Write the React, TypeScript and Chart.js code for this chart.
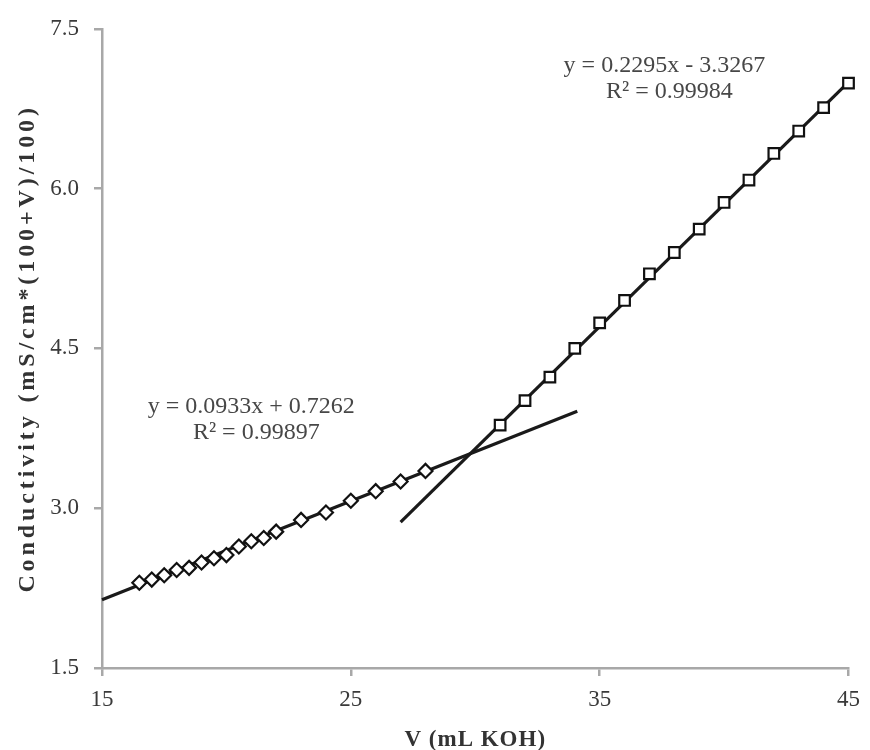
import React, { useEffect, useRef } from 'react';
import { Chart, registerables } from 'chart.js';

Chart.register(...registerables);

// ---- data ----
const leftX = [16.5, 17, 17.5, 18, 18.5, 19, 19.5, 20, 20.5, 21, 21.5, 22, 23, 24, 25, 26, 27, 28];
const leftY = [2.30, 2.33, 2.37, 2.42, 2.44, 2.49, 2.53, 2.56, 2.64, 2.69, 2.72, 2.78, 2.89, 2.96, 3.07, 3.16, 3.25, 3.35];
const rightX = [31, 32, 33, 34, 35, 36, 37, 38, 39, 40, 41, 42, 43, 44, 45];
const rightY = [3.78, 4.01, 4.23, 4.50, 4.74, 4.95, 5.20, 5.40, 5.62, 5.87, 6.08, 6.33, 6.54, 6.76, 6.99];
const leftTrendX = [15, 34.1];
const leftTrendY = [2.14, 3.91];
const rightTrendX = [27, 45];
const rightTrendY = [2.87, 7.0];
const xTicks = [15, 25, 35, 45];
const yTicks = [1.5, 3.0, 4.5, 6.0, 7.5];
const leftEquation = ['y = 0.0933x + 0.7262', 'R\u00B2 = 0.99897'];
const rightEquation = ['y = 0.2295x - 3.3267', 'R\u00B2 = 0.99984'];
const xTitle = 'V (mL KOH)';
const yTitle = 'Conductivity (mS/cm*(100+V)/100)';

const FONT = '"Liberation Serif", "Times New Roman", serif';
const AXIS_COLOR = '#a8a8a8';

const toPoints = (xs: number[], ys: number[]) => xs.map((x, i) => ({ x, y: ys[i] }));

const textPlugin = {
  id: 'customTexts',
  afterDraw(chart: any) {
    const { ctx, chartArea, scales } = chart;
    const xs = scales.x;
    const ys = scales.y;
    ctx.save();
    ctx.textAlign = 'center';
    ctx.textBaseline = 'middle';
    ctx.fillStyle = '#474747';
    ctx.font = `24px ${FONT}`;
    // left equation
    ctx.fillText(leftEquation[0], xs.getPixelForValue(21.0), ys.getPixelForValue(3.95));
    ctx.fillText(leftEquation[1], xs.getPixelForValue(21.2), ys.getPixelForValue(3.71));
    // right equation
    ctx.fillText(rightEquation[0], xs.getPixelForValue(37.6), ys.getPixelForValue(7.15));
    ctx.fillText(rightEquation[1], xs.getPixelForValue(37.8), ys.getPixelForValue(6.91));

    // axis titles
    ctx.fillStyle = '#333333';
    ctx.font = `bold 23px ${FONT}`;
    (ctx as any).letterSpacing = '1px';
    ctx.fillText(xTitle, (chartArea.left + chartArea.right) / 2, 740);
    ctx.font = `bold 24px ${FONT}`;
    (ctx as any).letterSpacing = '3.9px';
    ctx.translate(28, (chartArea.top + chartArea.bottom) / 2);
    ctx.rotate(-Math.PI / 2);
    ctx.fillText(yTitle, 0, 0);
    ctx.restore();
  },
};

export default function App() {
  const canvasRef = useRef<HTMLCanvasElement | null>(null);

  useEffect(() => {
    if (!canvasRef.current) return;
    const chart = new Chart(canvasRef.current, {
      type: 'scatter',
      data: {
        datasets: [
          {
            label: 'left',
            data: toPoints(leftX, leftY),
            pointStyle: 'rectRot',
            pointRadius: 7,
            pointBackgroundColor: '#ffffff',
            pointBorderColor: '#111111',
            pointBorderWidth: 2.2,
            showLine: false,
            order: 0,
            clip: false,
          },
          {
            label: 'right',
            data: toPoints(rightX, rightY),
            pointStyle: 'rect',
            pointRadius: 7.5,
            pointBackgroundColor: '#ffffff',
            pointBorderColor: '#111111',
            pointBorderWidth: 2.2,
            showLine: false,
            order: 0,
            clip: false,
          },
          {
            label: 'left trend',
            data: toPoints(leftTrendX, leftTrendY),
            showLine: true,
            borderColor: '#1a1a1a',
            borderWidth: 3.2,
            pointRadius: 0,
            order: 1,
            clip: false,
          },
          {
            label: 'right trend',
            data: toPoints(rightTrendX, rightTrendY),
            showLine: true,
            borderColor: '#1a1a1a',
            borderWidth: 3.2,
            pointRadius: 0,
            order: 1,
            clip: false,
          },
        ],
      },
      options: {
        animation: false,
        responsive: false,
        devicePixelRatio: 1,
        layout: { padding: { top: 20, right: 18, bottom: 0, left: 0 } },
        plugins: {
          legend: { display: false },
          tooltip: { enabled: false },
          title: { display: false },
        },
        scales: {
          x: {
            type: 'linear',
            position: 'bottom',
            min: 15,
            max: 45,
            afterBuildTicks: (scale: any) => {
              scale.ticks = xTicks.map((v) => ({ value: v }));
            },
            afterFit: (scale: any) => {
              scale.height = 82;
            },
            ticks: {
              autoSkip: false,
              maxRotation: 0,
              padding: 10,
              color: '#3a3a3a',
              font: { family: FONT, size: 23 },
              callback: (v: any) => String(v),
            },
            grid: {
              drawOnChartArea: false,
              drawTicks: true,
              tickLength: 8,
              color: AXIS_COLOR,
              lineWidth: 2.5,
            },
            border: { display: true, color: AXIS_COLOR, width: 2.5 },
            title: { display: false },
          },
          y: {
            type: 'linear',
            position: 'left',
            min: 1.5,
            max: 7.5,
            afterBuildTicks: (scale: any) => {
              scale.ticks = yTicks.map((v) => ({ value: v }));
            },
            afterFit: (scale: any) => {
              scale.width = 102;
            },
            ticks: {
              autoSkip: false,
              padding: 15,
              color: '#3a3a3a',
              font: { family: FONT, size: 23 },
              callback: (v: any) => Number(v).toFixed(1),
            },
            grid: {
              drawOnChartArea: false,
              drawTicks: true,
              tickLength: 8,
              color: AXIS_COLOR,
              lineWidth: 2.5,
            },
            border: { display: true, color: AXIS_COLOR, width: 2.5 },
            title: { display: false },
          },
        },
      },
      plugins: [textPlugin],
    } as any);
    return () => chart.destroy();
  }, []);

  return (
    <div style={{ position: 'fixed', left: 0, top: 0, width: 870, height: 750, background: '#ffffff' }}>
      <canvas ref={canvasRef} width={870} height={750} style={{ display: 'block', width: 870, height: 750 }} />
    </div>
  );
}
